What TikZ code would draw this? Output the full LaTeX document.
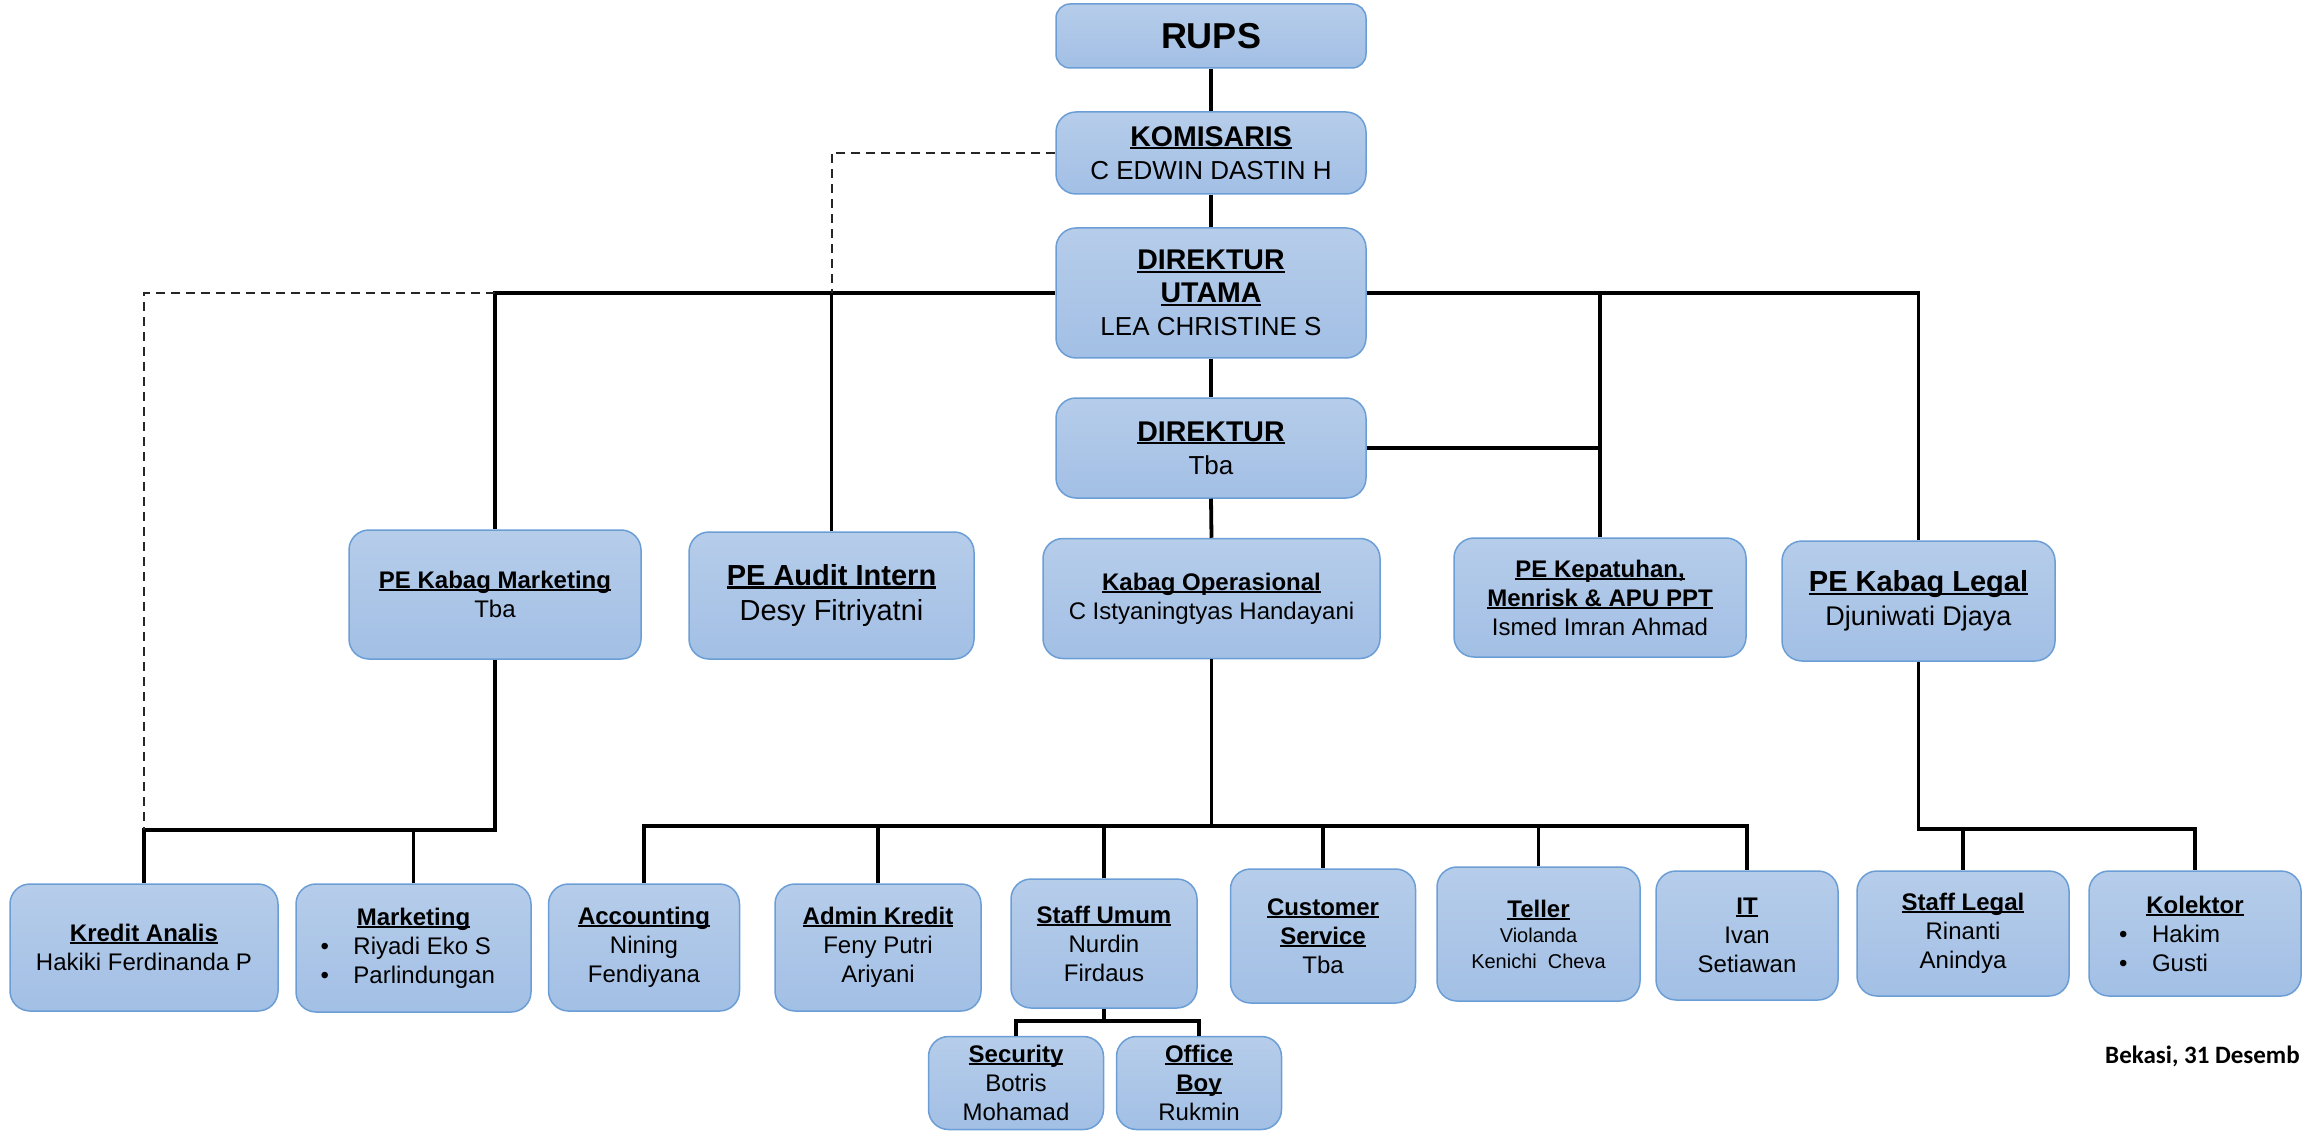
\documentclass[tikz,border=0pt]{standalone}
\usepackage{fontspec}
\setmainfont{Liberation Sans}
\newfontfamily\calfont{Carlito}
\definecolor{boxtop}{RGB}{182,205,234}
\definecolor{boxbot}{RGB}{162,191,229}
\definecolor{boxborder}{RGB}{108,158,214}
\newsavebox\ulbox
\newcommand\ulx[1]{\leavevmode\sbox\ulbox{#1}\rlap{\rule[-0.11em]{\wd\ulbox}{0.08em}}\usebox\ulbox}
\newcommand\ttl[1]{\ulx{\bfseries #1}}
\newcommand\tA{\fontsize{24}{29}\selectfont}
\newcommand\blt[2]{\makebox[#1][l]{\makebox[33pt][l]{\textbullet}#2}}
\tikzset{
  box/.style={draw=boxborder, line width=1.5pt, rounded corners=20pt,
    top color=boxtop, bottom color=boxbot, inner sep=0pt, align=center,
    text=black, font=\tA},
  conn/.style={line width=3.8pt, black},
  dsh/.style={line width=2pt, dash pattern=on 9pt off 6pt, black!85}
}
\begin{document}
\begin{tikzpicture}[x=1pt,y=-1pt]
\useasboundingbox (0,0) rectangle (2310,1131);
% top chain
\node[box,minimum width=310pt,minimum height=64pt,rounded corners=14pt] (rups) at (1211,36) {\fontsize{36}{43}\selectfont\bfseries RUPS};
\node[box,minimum width=310pt,minimum height=82pt,font={\fontsize{26}{33}\selectfont}] (kom) at (1211,153) {\fontsize{28.5}{33}\selectfont\ttl{KOMISARIS}\\\fontsize{26}{33}\selectfont C EDWIN DASTIN H};
\node[box,minimum width=310pt,minimum height=130pt,font={\fontsize{26}{33}\selectfont}] (du) at (1211,293) {\fontsize{28.5}{33}\selectfont\ttl{DIREKTUR}\\\fontsize{28.5}{33}\selectfont\ttl{UTAMA}\\\fontsize{26}{33}\selectfont LEA CHRISTINE S};
\node[box,minimum width=310pt,minimum height=100pt,font={\fontsize{26}{33}\selectfont}] (dir) at (1211,448) {\fontsize{28.5}{33}\selectfont\ttl{DIREKTUR}\\\fontsize{26}{33}\selectfont Tba};
% row 2
\node[box,minimum width=292pt,minimum height=129pt] (mkt) at (495,594.5) {\ttl{PE Kabag Marketing}\\Tba};
\node[box,minimum width=285pt,minimum height=127pt,font={\fontsize{29}{35}\selectfont}] (audit) at (831.5,595.5) {\ttl{PE Audit Intern}\\Desy Fitriyatni};
\node[box,minimum width=337pt,minimum height=120pt] (kop) at (1211.5,598.5) {\ttl{Kabag Operasional}\\C Istyaningtyas Handayani};
\node[box,minimum width=292pt,minimum height=119pt] (kep) at (1600,597.5) {\ttl{PE Kepatuhan,}\\\ttl{Menrisk \& APU PPT}\\Ismed Imran Ahmad};
\node[box,minimum width=273pt,minimum height=120pt,font={\fontsize{27}{34}\selectfont}] (legal) at (1918.5,601) {\fontsize{29}{35}\selectfont\ttl{PE Kabag Legal}\\\fontsize{27}{34}\selectfont Djuniwati Djaya};
% row 3
\node[box,minimum width=268pt,minimum height=127pt] (ka) at (144,947.5) {\ttl{Kredit Analis}\\Hakiki Ferdinanda P};
\node[box,minimum width=235pt,minimum height=128pt] (mk2) at (413.5,948) {\ttl{Marketing}\\\blt{186pt}{Riyadi Eko S}\\\blt{186pt}{Parlindungan}};
\node[box,minimum width=191pt,minimum height=127pt] (acc) at (644,947.5) {\ttl{Accounting}\\Nining\\Fendiyana};
\node[box,minimum width=206pt,minimum height=127pt] (adm) at (878,947.5) {\ttl{Admin Kredit}\\Feny Putri\\Ariyani};
\node[box,minimum width=186pt,minimum height=129pt] (su) at (1104,943.5) {\ttl{Staff Umum}\\Nurdin\\Firdaus};
\node[box,minimum width=185pt,minimum height=134pt] (cs) at (1323,936) {\ttl{Customer}\\\ttl{Service}\\Tba};
\node[box,minimum width=203pt,minimum height=134pt,font={\fontsize{20}{25.5}\selectfont}] (tel) at (1538.5,934) {\fontsize{24}{29}\selectfont\ttl{Teller}\\\fontsize{20}{25.5}\selectfont Violanda\\\fontsize{20}{25.5}\selectfont Kenichi\ \ Cheva};
\node[box,minimum width=182pt,minimum height=129pt] (it) at (1747,935.5) {\ttl{IT}\\Ivan\\Setiawan};
\node[box,minimum width=212pt,minimum height=125pt] (sl) at (1963,933.5) {\ttl{Staff Legal}\\Rinanti\\Anindya};
\node[box,minimum width=212pt,minimum height=125pt] (kol) at (2195,933.5) {\ttl{Kolektor}\\\blt{152pt}{Hakim}\\\blt{152pt}{Gusti}};
% row 4
\node[box,minimum width=175pt,minimum height=93pt] (sec) at (1016,1083) {\ttl{Security}\\Botris\\Mohamad};
\node[box,minimum width=165pt,minimum height=93pt] (ob) at (1199,1083) {\ttl{Office}\\\ttl{Boy}\\Rukmin};
% date
\node[anchor=base west,inner sep=0pt,font={\calfont\bfseries\fontsize{25}{30}\selectfont}] (bek) at (2105,1063) {Bekasi, 31 Desemb};
% bus coordinates
\coordinate (mbus) at (0,830);
\coordinate (obus) at (0,826);
\coordinate (lbus) at (0,829);
\coordinate (sbus) at (0,1021);
% connectors
\draw[conn] (rups.south) -- (kom.north);
\draw[conn] (kom.south) -- (du.north);
\draw[conn] (du.south) -- (dir.north);
\draw[conn] (dir.south) -- (kop.north);
\draw[conn] (du.west) -| (mkt.north);
\draw[conn] (du.east) -| (legal.north);
\draw[conn] (audit.north) -- (audit.north |- du.west);
\draw[conn] (kep.north) -- (kep.north |- du.east);
\draw[conn] (dir.east) -- (dir.east -| kep.north);
% marketing group
\draw[conn] (mkt.south) |- (ka.north |- mbus) -- (ka.north);
\draw[conn] (mk2.north) -- (mk2.north |- mbus);
% operasional group
\draw[conn] (kop.south) -- (kop.south |- obus);
\draw[conn] (acc.north) |- (it.north |- obus) -- (it.north);
\draw[conn] (adm.north) -- (adm.north |- obus);
\draw[conn] (su.north) -- (su.north |- obus);
\draw[conn] (cs.north) -- (cs.north |- obus);
\draw[conn] (tel.north) -- (tel.north |- obus);
% legal group
\draw[conn] (legal.south) |- (kol.north |- lbus) -- (kol.north);
\draw[conn] (sl.north) -- (sl.north |- lbus);
% staff umum group
\draw[conn] (su.south) -- (su.south |- sbus);
\draw[conn] (sec.north) |- (ob.north |- sbus) -- (ob.north);
% dashed lines
\draw[dsh] (du.west -| mkt.north) -- (du.west -| ka.north) -- (ka.north |- mbus);
\draw[dsh] (kom.west) -| (audit.north |- du.west);
\end{tikzpicture}
\end{document}
